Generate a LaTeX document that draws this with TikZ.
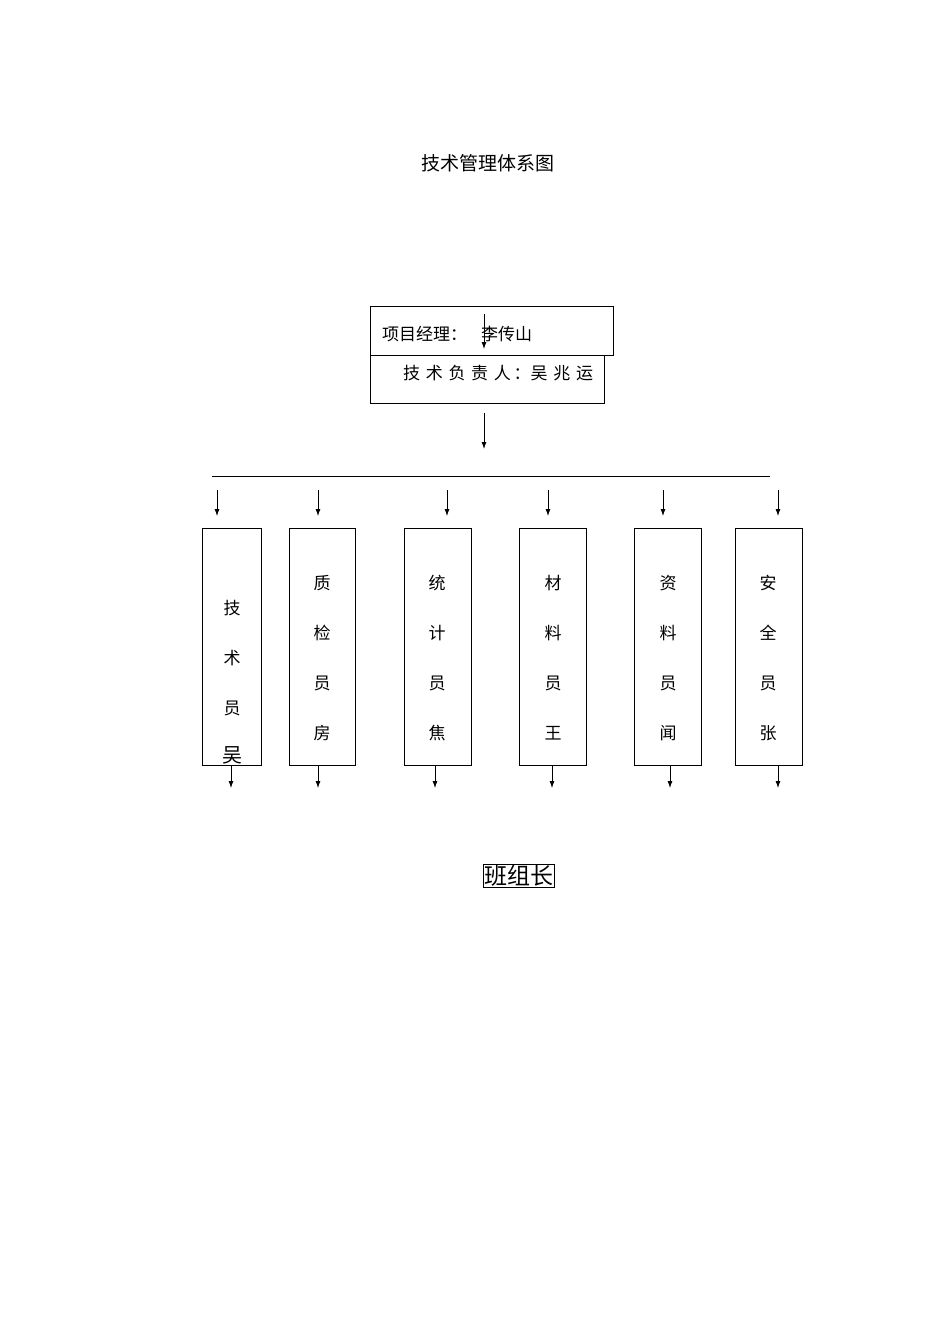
\documentclass[tikz,border=0pt]{standalone}
\usepackage{fontspec}
\setmainfont{Noto Sans CJK SC}
\usetikzlibrary{arrows.meta}
\begin{document}
\begin{tikzpicture}[x=1pt,y=-1pt,
  box/.style={draw,line width=0.8pt},
  arr/.style={-{Latex[length=7pt,width=5pt]},line width=0.8pt},
  txt/.style={inner sep=0pt,font=\fontsize{17}{17}\selectfont}]
\useasboundingbox (0,0) rectangle (950,1344);
\node[txt,font=\fontsize{19}{19}\selectfont] (title) at (488,163) {技术管理体系图};
\draw[box] (370,306) rectangle (613,355);
\draw[box] (370,355) rectangle (604,403);
\node[txt,anchor=west] (pm) at (382,334) {项目经理：\hspace{14pt}李传山};
\node[txt,anchor=west] (tl) at (403,373) {技\,\,术\,\,负\,\,责\,\,人\,：吴\,\,兆\,\,运};
\coordinate (a1) at (484,314); \coordinate (a2) at (484,349);
\draw[arr] (a1) -- (a2);
\coordinate (b1) at (484,413); \coordinate (b2) at (484,449);
\draw[arr] (b1) -- (b2);
\coordinate (h1) at (212,476); \coordinate (h2) at (770,476);
\draw[line width=0.8pt] (h1) -- (h2);
\foreach \x in {217,318,447,548,663,778}{
  \coordinate (t\x) at (\x,490); \coordinate (u\x) at (\x,516);
  \draw[arr] (t\x) -- (u\x);}
\foreach \xa/\xb/\ax/\n in {202/261/231/c1,289/355/318/c2,404/471/435/c3,519/586/552/c4,634/701/670/c5,735/802/778/c6}{
  \draw[box] (\xa,528) rectangle (\xb,765);
  \coordinate (\n s) at (\ax,765); \coordinate (\n e) at (\ax,788);
  \draw[arr] (\n s) -- (\n e);}
\foreach \c/\y in {技/608,术/658,员/708}{\node[txt] at (232,\y) {\c};}
\node[txt,font=\fontsize{20}{20}\selectfont] (w) at (232,755) {吴};
\foreach \x/\a/\b/\cc/\d in {322/质/检/员/房,437/统/计/员/焦,553/材/料/员/王,668/资/料/员/闻,768/安/全/员/张}{
  \node[txt] at (\x,583) {\a};
  \node[txt] at (\x,633) {\b};
  \node[txt] at (\x,683) {\cc};
  \node[txt] at (\x,733) {\d};}
\node[draw,line width=0.5pt,inner sep=1pt,font=\fontsize{23}{23}\selectfont] (bzz) at (518.5,876) {班组长};
\end{tikzpicture}
\end{document}
